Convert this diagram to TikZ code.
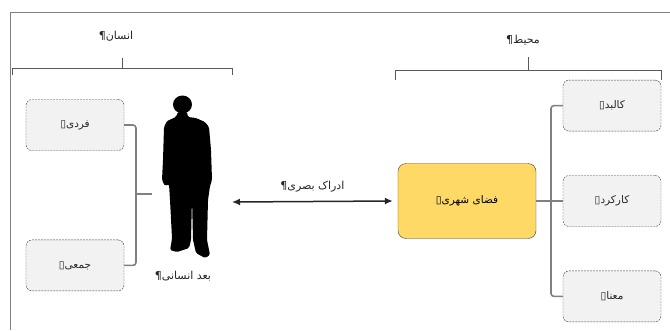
\documentclass[tikz,border=0pt]{standalone}
\usepackage{fontspec}
\usepackage{xcolor}
\usepackage{tikz}
\usetikzlibrary{arrows.meta, positioning}
\TeXXeTstate=1
\newfontfamily\farsi[Script=Arabic]{DejaVu Sans}
\newcommand{\fatext}[1]{{\farsi\beginR #1\endR}}
\definecolor{boxfill}{HTML}{F2F2F2}
\definecolor{hubfill}{HTML}{FFD966}
\definecolor{linkgray}{HTML}{808080}
\definecolor{textgray}{HTML}{262626}

\begin{document}
\begin{tikzpicture}[x=1pt, y=-1pt,
    cat/.style={draw=black!75, dashed, dash pattern=on 2pt off 1pt, fill=boxfill,
        rounded corners=6pt, minimum width=98pt, minimum height=51pt,
        font=\fontsize{10.5}{12}\selectfont, text=textgray},
    hub/.style={draw=black!75, fill=hubfill, rounded corners=8pt,
        minimum width=138pt, minimum height=75pt,
        font=\fontsize{10.5}{12}\selectfont, text=black},
    tag/.style={font=\fontsize{11}{13}\selectfont, text=textgray},
    link/.style={draw=linkgray, line width=1.6pt, rounded corners=3pt},
    bracket/.style={draw=black!65, line width=0.9pt}]
    \useasboundingbox (0,0) rectangle (670,330);
    \draw[linkgray, line width=1pt] (10,330) -- (10,12) -- (670,12);

            % left side: human
            \node[cat] (fardi) at (75,125) {\fatext{فردی▯}};
            \node[cat, below=89pt of fardi] (jamei) {\fatext{جمعی▯}};
            \node[tag] (ensan) at (116,36) {\fatext{انسان¶}};
            \node[tag] (bodensani) at (183,276) {\fatext{بعد انسانی¶}};

            % right side: environment
            \node[hub] (fazashahri) at (467,201) {\fatext{فضای شهری▯}};
            \node[cat] (karkard) at (612,201) {\fatext{کارکرد▯}};
            \node[cat, above=44pt of karkard] (kalbad) {\fatext{کالبد▯}};
            \node[cat, below=44pt of karkard] (mana) {\fatext{معنا▯}};
            \node[tag] (mohit) at (523,40) {\fatext{محیط¶}};

            \coordinate (lhub) at (136,194);
            \coordinate (lstub) at (152,194);
            \coordinate (rtrunk) at (551,201);
            \coordinate (eye) at (232,202);

            % silhouette
            \fill[black] (182.5,104.5) ellipse [x radius=9.5, y radius=9];
            \fill[black, rounded corners=1.5pt] (178,112) -- (176,117) -- (167,121)
                -- (164,127) -- (163,160) -- (162,180) -- (165,186) -- (169,184)
                -- (170,200) -- (172,238) -- (171,245) -- (170,250) -- (177,252)
                -- (189,248) -- (191,240) -- (192,198) -- (193,240) -- (196,253)
                -- (205,258) -- (210,255) -- (207,240) -- (208,200) -- (210,186)
                -- (212,180) -- (211,150) -- (209,127) -- (205,122) -- (196,118)
                -- (188,117) -- (187,112) -- cycle;

            % brackets
            \draw[bracket] (12,75) -- (12,68) -- (232,68) -- (232,75)
                (122,68) -- (122,58);
            \draw[bracket] (395,80) -- (395,70) -- (661,70) -- (661,80)
                (528,70) -- (528,57);

            % connectors
            \draw[link] (fardi.east) -| (lhub) |- (jamei.east);
            \draw[link, rounded corners=0pt] (lhub) -- (lstub);
            \draw[link] (kalbad.west) -| (rtrunk) |- (mana.west);
            \draw[link, rounded corners=0pt] (fazashahri.east) -- (karkard.west);

            \draw (eye) edge[{Latex[length=8pt,width=7pt]}-{Latex[length=8pt,width=7pt]}, line width=1.5pt, black!85]
                node[above=5pt, tag]{\fatext{ادراک بصری¶}}
                ([xshift=-5pt]fazashahri.west);

        \end{tikzpicture}
\end{document}
